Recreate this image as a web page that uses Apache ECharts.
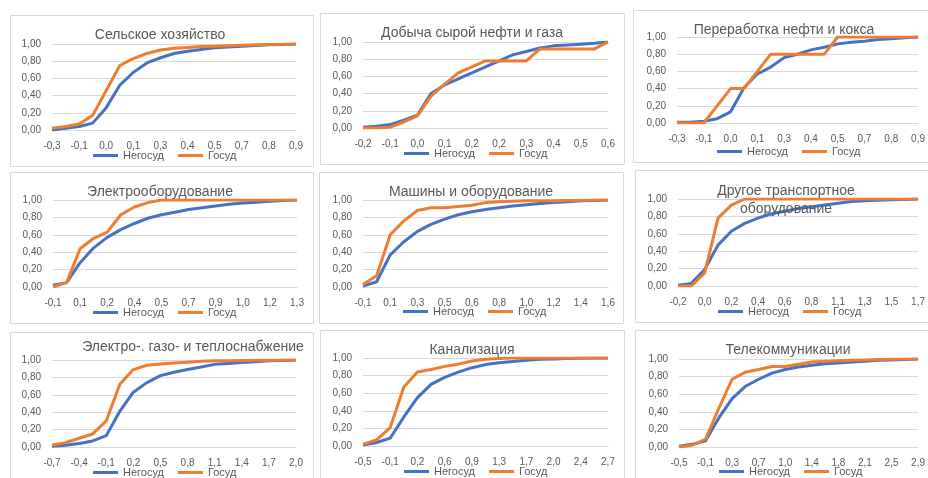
<!DOCTYPE html>
<html><head><meta charset="utf-8">
<script src="https://cdn.jsdelivr.net/npm/echarts@6/dist/echarts.min.js"></script>
<style>html,body{margin:0;padding:0;background:#fff}#c{width:928px;height:478px}</style>
</head><body><div id="c"></div>
<script>
// ---------- DATA ----------
const seriesNames = ['Негосуд', 'Госуд'];

const titles = ['Сельское хозяйство','Добыча сырой нефти и газа','Переработка нефти и кокса',
  'Электрооборудование','Машины и оборудование','Другое транспортное\nоборудование',
  'Электро-. газо- и теплоснабжение','Канализация','Телекоммуникации'];

const catsAgri = ['-0,3','-0,2','-0,1','-0,05','0,0','0,05','0,1','0,2','0,3','0,35','0,4','0,45','0,5','0,6','0,7','0,75','0,8','0,85','0,9'];
const negAgri  = [0.00,0.02,0.04,0.08,0.26,0.52,0.67,0.78,0.84,0.89,0.915,0.935,0.955,0.965,0.975,0.982,0.99,0.995,1.00];
const gosAgri  = [0.02,0.04,0.07,0.17,0.46,0.75,0.83,0.89,0.93,0.95,0.96,0.97,0.975,0.98,0.985,0.99,0.995,0.998,1.00];

const catsOil  = ['-0,2','-0,15','-0,1','-0,05','0,0','0,05','0,1','0,15','0,2','0,2','0,2','0,25','0,3','0,35','0,4','0,45','0,5','0,55','0,6'];
const negOil   = [0.01,0.02,0.04,0.09,0.15,0.40,0.50,0.57,0.64,0.71,0.78,0.85,0.89,0.93,0.955,0.965,0.975,0.985,1.00];
const gosOil   = [0.00,0.00,0.01,0.07,0.14,0.37,0.51,0.64,0.71,0.78,0.78,0.78,0.78,0.92,0.92,0.92,0.92,0.92,1.00];

const catsRef  = ['-0,3','-0,2','-0,1','-0,05','0,0','0,05','0,1','0,2','0,3','0,35','0,4','0,45','0,5','0,6','0,7','0,75','0,8','0,85','0,9'];
const negRef   = [0.01,0.01,0.02,0.05,0.13,0.41,0.57,0.65,0.76,0.80,0.85,0.88,0.92,0.94,0.95,0.97,0.98,0.99,1.00];
const gosRef   = [0.00,0.00,0.00,0.20,0.40,0.40,0.60,0.80,0.80,0.80,0.80,0.80,1.00,1.00,1.00,1.00,1.00,1.00,1.00];

const catsElec = ['-0,1','0,0','0,1','0,1','0,2','0,3','0,4','0,4','0,5','0,6','0,7','0,8','0,9','0,9','1,0','1,1','1,2','1,2','1,3'];
const negElec  = [0.02,0.05,0.28,0.45,0.57,0.66,0.73,0.79,0.83,0.86,0.89,0.91,0.93,0.95,0.965,0.975,0.985,0.995,1.00];
const gosElec  = [0.00,0.05,0.44,0.56,0.63,0.83,0.92,0.97,1.00,1.00,1.00,1.00,1.00,1.00,1.00,1.00,1.00,1.00,1.00];

const catsMach = ['-0,1','0,0','0,1','0,2','0,3','0,4','0,5','0,55','0,6','0,7','0,8','0,9','1,0','1,1','1,2','1,3','1,4','1,5','1,6'];
const negMach  = [0.01,0.06,0.37,0.52,0.64,0.72,0.78,0.83,0.865,0.89,0.91,0.93,0.945,0.96,0.97,0.98,0.99,0.995,1.00];
const gosMach  = [0.03,0.13,0.60,0.76,0.88,0.91,0.91,0.925,0.94,0.97,0.98,0.985,0.99,0.99,0.99,0.995,0.997,0.999,1.00];

const catsTran = ['-0,2','-0,1','0,0','0,1','0,2','0,3','0,4','0,5','0,6','0,7','0,8','1,0','1,1','1,2','1,3','1,4','1,5','1,6','1,7'];
const negTran  = [0.01,0.03,0.19,0.47,0.63,0.72,0.78,0.83,0.86,0.89,0.91,0.93,0.95,0.97,0.98,0.985,0.99,0.995,1.00];
const gosTran  = [0.00,0.00,0.15,0.78,0.93,1.00,1.00,1.00,1.00,1.00,1.00,1.00,1.00,1.00,1.00,1.00,1.00,1.00,1.00];

const catsUtil = ['-0,7','-0,55','-0,4','-0,25','-0,1','0,05','0,2','0,35','0,5','0,65','0,8','0,95','1,1','1,25','1,4','1,55','1,7','1,85','2,0'];
const negUtil  = [0.01,0.02,0.04,0.07,0.13,0.41,0.63,0.74,0.82,0.86,0.89,0.92,0.95,0.96,0.97,0.98,0.99,0.995,1.00];
const gosUtil  = [0.02,0.05,0.10,0.15,0.30,0.72,0.89,0.94,0.955,0.965,0.975,0.985,0.99,0.99,0.995,0.997,0.998,0.999,1.00];

const catsSew  = ['-0,5','-0,3','-0,1','0,0','0,2','0,4','0,6','0,7','0,9','1,1','1,3','1,5','1,7','1,8','2,0','2,2','2,4','2,5','2,7'];
const negSew   = [0.01,0.04,0.09,0.33,0.55,0.70,0.78,0.84,0.89,0.925,0.945,0.96,0.975,0.985,0.99,0.995,0.997,0.999,1.00];
const gosSew   = [0.02,0.07,0.21,0.67,0.84,0.87,0.905,0.93,0.965,0.985,0.995,1.00,1.00,1.00,1.00,1.00,1.00,1.00,1.00];

const catsTel  = ['-0,5','-0,3','-0,1','0,1','0,3','0,5','0,7','0,8','1,0','1,2','1,4','1,6','1,8','1,9','2,1','2,3','2,5','2,7','2,9'];
const negTel   = [0.01,0.03,0.07,0.33,0.55,0.69,0.77,0.84,0.88,0.91,0.93,0.945,0.955,0.965,0.975,0.985,0.99,0.995,1.00];
const gosTel   = [0.00,0.02,0.09,0.44,0.77,0.85,0.88,0.915,0.915,0.94,0.965,0.975,0.98,0.985,0.99,0.993,0.996,0.999,1.00];

// ---------- LAYOUT ----------
const panelData = [
  [catsAgri,negAgri,gosAgri],[catsOil,negOil,gosOil],[catsRef,negRef,gosRef],
  [catsElec,negElec,gosElec],[catsMach,negMach,gosMach],[catsTran,negTran,gosTran],
  [catsUtil,negUtil,gosUtil],[catsSew,negSew,gosSew],[catsTel,negTel,gosTel]
];
// box [x,y,w,h], grid [left,top,right,bottom], title center [x,y], legend [left, centerY]
const layout = [
  {box:[10,15,303,151], grid:[52,44,296,130], t:[160,35], lg:[93,157]},
  {box:[320,13,304,151], grid:[363,42,608,128], t:[472,33], lg:[404,155]},
  {box:[633,10,310,152], grid:[677,37,921,123], t:[784,30], lg:[717,153]},
  {box:[10,172,303,151], grid:[53,200,297,287], t:[160,192], lg:[93,314]},
  {box:[319,172,304,151], grid:[363,200,608,287], t:[471,192], lg:[403,313]},
  {box:[635,170,310,152], grid:[678,199,922,286], t:[786,200], lg:[718,313]},
  {box:[10,332,303,160], grid:[52,360,296,447], t:[193,347], lg:[93,474]},
  {box:[320,330,304,160], grid:[363,358,608,446], t:[472,350], lg:[404,473]},
  {box:[635,330,310,160], grid:[679,359,924,447], t:[788,350], lg:[719,473]}
];

const FONT = 'Liberation Sans, Arial, sans-serif';
const TXT = '#595959';
const BLUE = '#4472C4', ORANGE = '#ED7D31';

const grid = [], xAxis = [], yAxis = [], series = [], legend = [], graphic = [];
layout.forEach((L, i) => {
  const [cats, neg, gos] = panelData[i];
  graphic.push({type:'rect', silent:true, z:-1,
    shape:{x:L.box[0]+0.5, y:L.box[1]+0.5, width:L.box[2], height:L.box[3]},
    style:{fill:'#fff', stroke:'#d9d9d9', lineWidth:1}});
  graphic.push({type:'text', silent:true, z:10, x:L.t[0], y:L.t[1],
    style:{text:titles[i], fill:TXT, font:'14px ' + FONT, align:'center', verticalAlign:'middle', lineHeight:18}});
  grid.push({left:L.grid[0], top:L.grid[1], width:L.grid[2]-L.grid[0], height:L.grid[3]-L.grid[1], containLabel:false});
  xAxis.push({type:'category', gridIndex:i, data:cats, boundaryGap:false,
    axisLine:{show:true, lineStyle:{color:'#d9d9d9', width:1}}, axisTick:{show:false},
    axisLabel:{interval:1, color:TXT, fontSize:10, fontFamily:FONT, margin:11}, splitLine:{show:false}});
  yAxis.push({type:'value', gridIndex:i, min:0, max:1, interval:0.2,
    axisLine:{show:false}, axisTick:{show:false},
    axisLabel:{color:TXT, fontSize:10, fontFamily:FONT, margin:11, formatter:v => v.toFixed(2).replace('.', ',')},
    splitLine:{lineStyle:{color:'#d9d9d9', width:1}}});
  series.push({name:seriesNames[0], type:'line', xAxisIndex:i, yAxisIndex:i, data:neg, symbol:'none',
    lineStyle:{color:BLUE, width:3, join:'round'}, itemStyle:{color:BLUE}, z:2, animation:false});
  series.push({name:seriesNames[1], type:'line', xAxisIndex:i, yAxisIndex:i, data:gos, symbol:'none',
    lineStyle:{color:ORANGE, width:3, join:'round'}, itemStyle:{color:ORANGE}, z:3, animation:false});
  legend.push({data:seriesNames, left:L.lg[0], top:L.lg[1]-7, icon:'rect', itemWidth:25, itemHeight:3, itemGap:14,
    selectedMode:false, padding:0, textStyle:{color:TXT, fontSize:11, fontFamily:FONT}});
});

const chart = echarts.init(document.getElementById('c'), null, {renderer:'canvas'});
chart.setOption({backgroundColor:'#fff', animation:false, grid, xAxis, yAxis, series, legend, graphic});
</script></body></html>
